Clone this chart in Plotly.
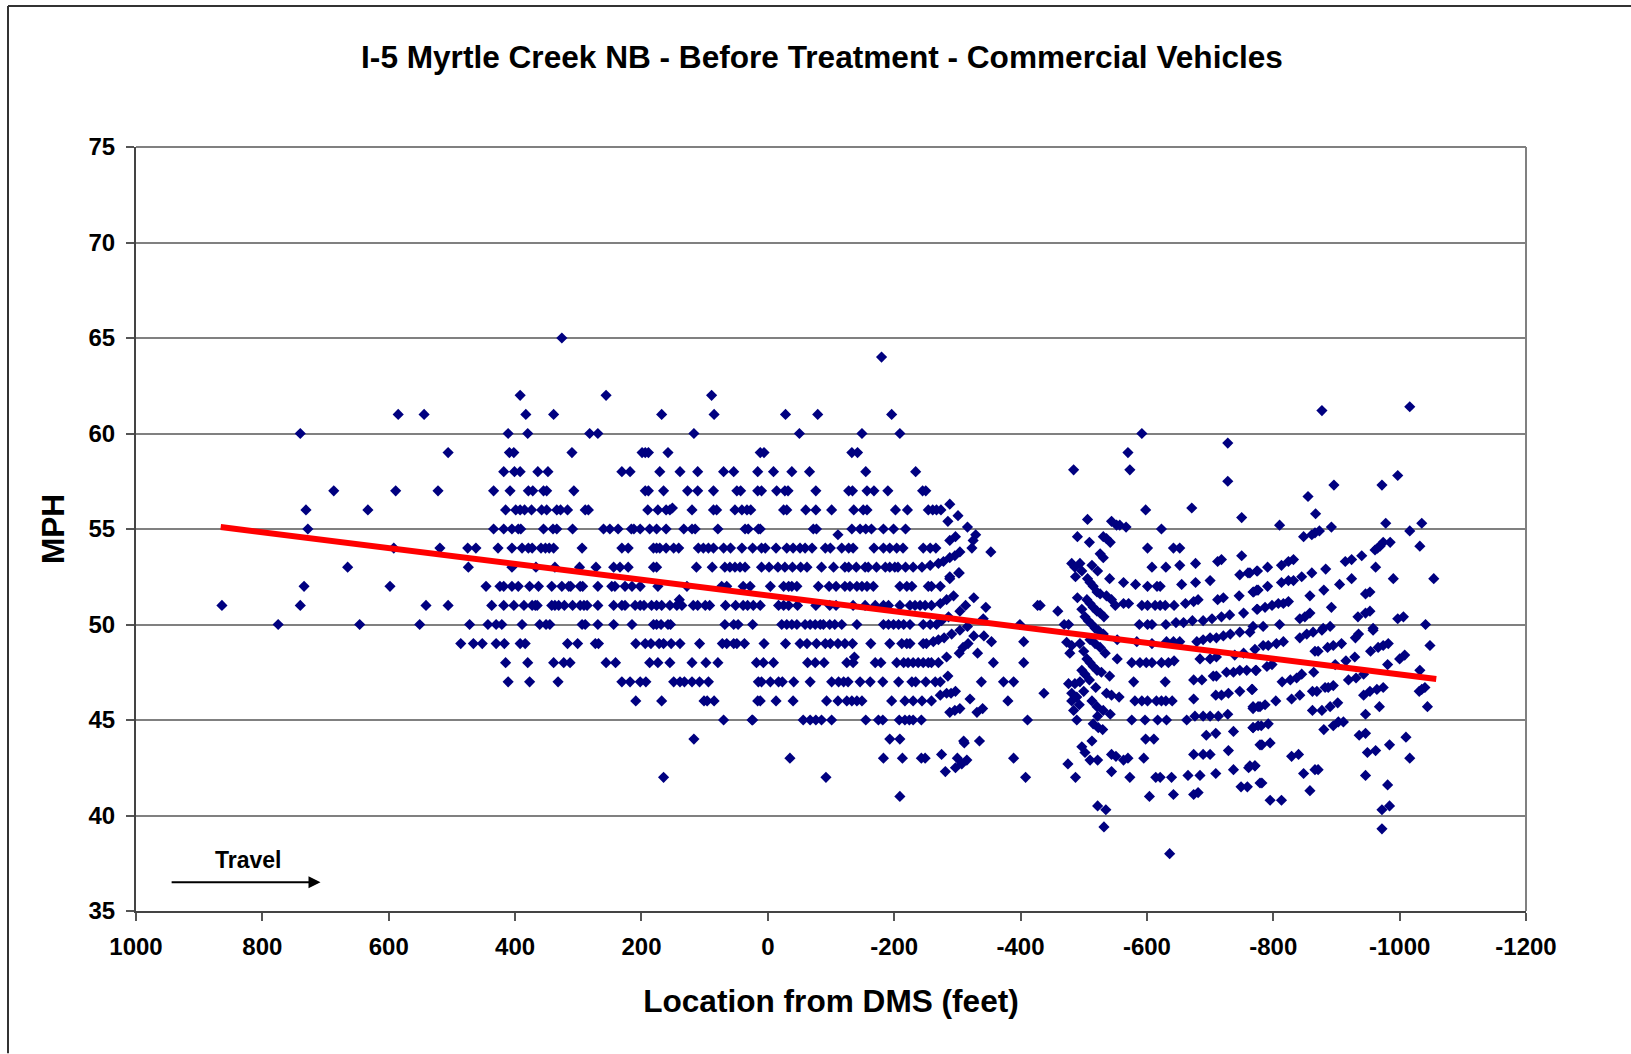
import plotly.graph_objects as go

# Locations (feet from DMS) of observations at whole-mph speeds, upstream part
loc_65 = [326]
loc_64 = [-180]
loc_62 = [392, 256, 89]
loc_61 = [585, 544, 383, 339, 168, 85, -28, -79, -196]
loc_60 = [740, 411, 380, 282, 269, 117, -50, -149, -209]
loc_59 = [506, 409, 402, 310, 199, 194, 189, 158, 12, 6, -133, -142]
loc_58 = [418, 401, 392, 364, 348, 231, 218, 171, 139, 111, 70, 54, 16, -9, -38, -66, -155, -234]
loc_57 = [687, 589, 522, 434, 408, 379, 372, 355, 350, 307, 194, 189, 165, 127, 111, 86, 49, 43, 16, 10,
          -14, -27, -32, -76, -128, -134, -157, -168, -190, -245, -250]
loc_56 = [731, 633, 415, 399, 392, 385, 374, 358, 350, 334, 328, 317, 289, 284, 190, 174, 161, 155, 120, 86,
          81, 52, 41, 33, 27, -25, -30, -60, -76, -101, -136, -151, -157, -202, -221, -254, -261, -267, -274]
loc_55 = [728, 434, 418, 405, 395, 391, 355, 340, 334, 309, 260, 250, 237, 216, 212, 202, 187, 176, 161, 133,
          120, 115, 79, 36, 31, 15, 12, -72, -77, -133, -146, -155, -164, -183, -199, -218]
loc_54 = [592, 519, 475, 462, 427, 405, 389, 379, 373, 359, 352, 346, 339, 294, 231, 221, 181, 176, 171, 161,
          149, 141, 110, 102, 94, 86, 70, 59, 41, 24, 10, 4, -13, -30, -40, -51, -59, -70, -91, -99, -117, -128,
          -135, -168, -183, -193, -204, -214, -246, -257, -266, -323]
loc_53 = [665, 474, 405, 367, 337, 298, 272, 244, 234, 221, 181, 176, 113, 88, 68, 60, 52, 44, 36, 10, -2, -16,
          -27, -39, -52, -62, -85, -104, -122, -128, -140, -154, -159, -172, -186, -193, -201, -206, -218, -230, -244]
loc_52 = [734, 598, 446, 424, 418, 405, 395, 377, 363, 342, 326, 315, 312, 297, 293, 269, 247, 242, 226, 215,
          202, 174, 128, 73, 65, 39, 28, -4, -25, -33, -38, -46, -80, -97, -108, -122, -130, -141, -149, -157, -167,
          -209, -220, -228, -254, -259, -273]
loc_51 = [864, 740, 541, 506, 437, 418, 402, 386, 373, 368, 365, 342, 337, 331, 322, 309, 297, 291, 286, 269,
          244, 231, 226, 210, 202, 196, 184, 176, 168, 155, 144, 136, 118, 111, 99, 92, 67, 51, 39, 32, 23, 12,
          -17, -25, -33, -47, -76, -98, -108, -135, -154, -170, -183, -191, -209, -225, -233, -241, -249, -313, -427]
loc_50 = [775, 646, 551, 472, 443, 430, 421, 389, 361, 351, 345, 294, 289, 269, 244, 215, 181, 176, 169, 158,
          154, 68, 54, 47, 24, -22, -30, -38, -46, -59, -67, -75, -83, -88, -98, -106, -117, -141, -183, -191, -199,
          -207, -215, -225, -246, -257, -267, -399]
loc_49 = [486, 466, 452, 430, 417, 392, 384, 317, 301, 273, 268, 209, 194, 185, 172, 165, 153, 139, 108, 72, 65,
          54, 49, 37, 6, -28, -51, -62, -77, -91, -99, -111, -122, -134, -163, -193, -212, -220, -225, -246, -251,
          -317]
loc_48 = [415, 380, 339, 323, 313, 256, 241, 187, 174, 155, 120, 98, 79, 18, 7, -9, -63, -75, -89, -125, -135,
          -170, -179, -204, -215, -222, -230, -238, -246, -254, -259, -270, -357, -405]
loc_47 = [411, 377, 332, 231, 218, 202, 193, 149, 139, 132, 120, 108, 94, 15, 10, -4, -17, -23, -41, -67, -101,
          -112, -120, -127, -146, -162, -182, -207, -228, -234, -250, -265, -273, -338, -373, -389]
loc_46 = [209, 168, 101, 96, 85, 16, 12, -13, -40, -93, -111, -125, -133, -141, -149, -196, -217, -230, -244,
          -259, -380]
loc_45 = [70, 25, 24, -56, -67, -76, -85, -101, -155, -175, -182, -208, -217, -224, -230, -243, -411]
loc_44 = [117, -193, -209]
loc_43 = [-35, -183, -213, -243, -249, -300, -389]
loc_42 = [165, -92, -408]
loc_41 = [-209]

# Observations that do not fall on a whole mph (location in feet, speed in mph)
scattered = [
    (-111, 54.7), (-288, 56.3), (-301, 55.7), (-285, 55.4), (-316, 55.1), (-329, 54.7), (-325, 54.4),
    (-297, 54.6), (-288, 54.4), (-353, 53.8), (-304, 53.8), (-296, 53.6), (-288, 53.5), (-278, 53.3),
    (-270, 53.2), (-257, 53.1), (-302, 52.7), (-288, 52.4), (-303, 52.7), (-288, 52.5), (-294, 51.5),
    (-283, 51.3), (-273, 51.1), (-259, 51.0), (-326, 51.4), (-345, 50.9), (-304, 50.7), (-286, 50.4),
    (-341, 50.3), (-275, 50.2), (-316, 49.9), (-304, 49.7), (-291, 49.5), (-279, 49.3), (-270, 49.2),
    (-262, 49.1), (-326, 49.4), (-342, 49.4), (-354, 49.1), (-405, 49.1), (-309, 48.8), (-303, 48.5),
    (-332, 48.5), (-137, 48.3), (-283, 48.3), (-285, 47.3), (-273, 46.3), (-283, 46.4), (-290, 46.4),
    (-297, 46.5), (-320, 46.1), (-437, 46.4), (-288, 45.4), (-296, 45.5), (-304, 45.6), (-331, 45.4),
    (-340, 45.6), (-310, 43.9), (-311, 43.8), (-335, 43.9), (-275, 43.2), (-315, 42.9), (-307, 42.7),
    (-297, 42.5), (-281, 42.3), (140, 51.3), (151, 56.1),
]

# Downstream observations
downstream_a = [
    (-431, 51), (-592, 60.0), (-728, 59.5), (-570, 59.0), (-484, 58.1), (-573, 58.1), (-728, 57.5), (-598, 56.0),
    (-671, 56.1), (-750, 55.6), (-506, 55.5), (-544, 55.4), (-552, 55.2), (-557, 55.2), (-567, 55.1), (-623, 55),
    (-490, 54.6), (-509, 54.3), (-531, 54.6), (-536, 54.5), (-542, 54.3), (-601, 54), (-642, 54.0), (-652, 54.0),
    (-750, 53.6), (-526, 53.7), (-531, 53.5), (-481, 53.2), (-486, 53), (-494, 53.2), (-497, 52.8), (-513, 53.1),
    (-522, 52.8), (-608, 53), (-630, 53), (-652, 53.1), (-677, 53.2), (-712, 53.3), (-718, 53.4), (-487, 52.5),
    (-506, 52.4), (-510, 52.2), (-515, 52), (-521, 51.7), (-526, 51.6), (-541, 52.4), (-563, 52.2), (-582, 52.1),
    (-601, 52), (-616, 52), (-621, 52), (-655, 52.1), (-677, 52.2), (-700, 52.3), (-747, 52.6), (-760, 52.7),
    (-774, 52.8), (-490, 51.4), (-536, 51.5), (-544, 51.3), (-550, 51), (-563, 51.1), (-571, 51.1), (-768, 51.7),
    (-776, 51.8), (-746, 51.5), (-592, 51), (-601, 51), (-613, 51), (-621, 51), (-629, 51), (-643, 51),
    (-661, 51.1), (-674, 51.2), (-681, 51.3), (-712, 51.3), (-721, 51.4), (-505, 51.3), (-510, 51.1), (-515, 50.9),
    (-521, 50.7), (-526, 50.6), (-532, 50.4), (-497, 50.8), (-502, 50.4), (-507, 50.2), (-513, 50), (-518, 49.8),
    (-523, 49.7), (-531, 49.5), (-459, 50.7), (-469, 50), (-476, 50), (-588, 50), (-601, 50), (-608, 50),
    (-630, 50), (-646, 50.1), (-658, 50.1), (-672, 50.2), (-689, 50.2), (-703, 50.3), (-718, 50.4), (-731, 50.5),
    (-753, 50.6), (-774, 50.8),
]
downstream_b = [
    (-473, 49.07), (-481, 48.9), (-478, 48.5), (-494, 49), (-500, 48.6), (-505, 48.2), (-510, 48), (-515, 47.8),
    (-521, 47.6), (-528, 47.5), (-510, 49.2), (-518, 49), (-526, 48.8), (-534, 48.5), (-541, 47.3), (-497, 47.6),
    (-502, 47.4), (-509, 47.1), (-553, 48.2), (-576, 48), (-589, 48), (-599, 48), (-608, 48), (-623, 48), (-634, 48),
    (-643, 48.1), (-684, 48.2), (-700, 48.2), (-710, 48.3), (-679, 49.1), (-689, 49.2), (-700, 49.3), (-710, 49.3),
    (-721, 49.4), (-732, 49.5), (-747, 49.6), (-763, 49.6), (-631, 49.1), (-642, 49.1), (-652, 49.1), (-584, 49.1),
    (-553, 49.2), (-608, 49), (-739, 48.4), (-753, 48.5), (-773, 47.6), (-747, 47.6), (-758, 47.6), (-737, 47.5),
    (-726, 47.5), (-710, 47.3), (-705, 47.3), (-579, 47), (-629, 47), (-674, 47.1), (-687, 47.1), (-476, 46.9),
    (-494, 47), (-486, 46.9), (-500, 46.5), (-519, 46.7), (-481, 46.4), (-489, 46.2), (-481, 46), (-536, 46.4),
    (-544, 46.3), (-556, 46.2), (-581, 46), (-592, 46), (-601, 46), (-615, 46), (-623, 46), (-630, 46), (-640, 46),
    (-674, 46.1), (-709, 46.3), (-718, 46.3), (-729, 46.4), (-747, 46.5), (-766, 46.6), (-768, 45.6), (-776, 45.7),
    (-493, 45.8), (-484, 45.5), (-489, 45), (-513, 46), (-521, 45.7), (-531, 45.5), (-542, 45.3), (-522, 45.2),
    (-576, 45), (-597, 45), (-617, 45), (-631, 45), (-663, 45), (-676, 45.2), (-689, 45.2), (-700, 45.2),
    (-713, 45.2), (-728, 45.3), (-515, 44.8), (-523, 44.6), (-530, 44.5), (-513, 43.9), (-598, 44), (-611, 44),
    (-694, 44.2), (-709, 44.3), (-737, 44.4), (-768, 44.6), (-776, 44.7), (-497, 43.6), (-502, 43.3), (-510, 42.9),
    (-522, 42.9), (-475, 42.7), (-544, 43.2), (-551, 43.1), (-563, 42.9), (-570, 43), (-595, 43), (-674, 43.2),
    (-689, 43.2), (-700, 43.2), (-729, 43.4), (-761, 42.5), (-771, 42.6), (-779, 43.7), (-487, 42), (-544, 42.3),
    (-573, 42), (-614, 42), (-621, 42), (-639, 42), (-665, 42.1), (-684, 42.1), (-709, 42.2), (-737, 42.4),
    (-749, 41.5), (-759, 41.5), (-779, 41.7), (-604, 41), (-642, 41.1), (-674, 41.1), (-681, 41.2), (-522, 40.5),
    (-535, 40.3), (-532, 39.4), (-636, 38),
]
downstream_c = [
    (-877, 61.2), (-1016, 61.4), (-997, 57.8), (-896, 57.3), (-972, 57.3), (-855, 56.7), (-867, 55.8), (-810, 55.2),
    (-892, 55.1), (-978, 55.3), (-1035, 55.3), (-1016, 54.9), (-848, 54.6), (-861, 54.7), (-866, 54.8), (-873, 54.9),
    (-1032, 54.1), (-985, 54.3), (-974, 54.3), (-969, 54.1), (-961, 53.9), (-965, 54), (-940, 53.6), (-924, 53.4),
    (-914, 53.3), (-962, 53), (-832, 53.4), (-824, 53.3), (-813, 53.1), (-791, 53), (-775, 52.8), (-763, 52.7),
    (-883, 52.9), (-861, 52.7), (-845, 52.5), (-832, 52.3), (-824, 52.3), (-813, 52.2), (-791, 52), (-774, 51.8),
    (-769, 51.7), (-924, 52.4), (-905, 52.1), (-880, 51.8), (-858, 51.5), (-990, 52.4), (-1054, 52.4), (-953, 51.7),
    (-946, 51.6), (-892, 50.9), (-953, 50.7), (-946, 50.6), (-934, 50.4), (-858, 50.6), (-850, 50.4), (-842, 50.3),
    (-824, 51.2), (-816, 51.1), (-808, 51.1), (-798, 51), (-787, 50.9), (-775, 50.8), (-997, 50.3), (-1006, 50.4),
    (-1041, 50), (-810, 50), (-784, 49.9), (-768, 49.9), (-890, 49.9), (-879, 49.8), (-958, 49.8),
    (-877, 49.7), (-863, 49.6), (-853, 49.5), (-842, 49.3), (-958, 49.7), (-935, 49.5), (-930, 49.3), (-816, 49.1),
    (-805, 49), (-792, 48.9), (-784, 48.9), (-771, 48.7), (-1048, 48.9), (-908, 49), (-895, 48.9), (-886, 48.8),
    (-1008, 48.4), (-1000, 48.2), (-982, 49), (-974, 48.9), (-966, 48.8), (-954, 48.6), (-871, 48.6), (-866, 48.6),
    (-929, 48.3), (-915, 48.1), (-898, 47.9), (-864, 47.5), (-981, 47.9), (-1032, 47.6), (-845, 47.4), (-837, 47.2),
    (-827, 47.1), (-814, 47), (-943, 47.4), (-931, 47.2), (-919, 47.1), (-798, 47.9), (-790, 47.8), (-772, 47.6),
    (-767, 46.6), (-1040, 46.7), (-1035, 46.6), (-1031, 46.5), (-974, 46.7), (-964, 46.6), (-953, 46.5), (-943, 46.3),
    (-895, 46.8), (-887, 46.7), (-882, 46.7), (-869, 46.5), (-862, 46.5), (-842, 46.3), (-829, 46.1), (-804, 46),
    (-787, 45.8), (-779, 45.7), (-768, 45.7), (-902, 45.9), (-890, 45.7), (-877, 45.5), (-862, 45.5), (-1044, 45.7),
    (-968, 45.7), (-946, 45.3), (-911, 44.9), (-903, 44.9), (-895, 44.7), (-880, 44.5), (-792, 44.8), (-781, 44.7),
    (-768, 44.6), (-946, 44.3), (-936, 44.2), (-1010, 44.1), (-984, 43.7), (-1016, 43), (-795, 43.8), (-782, 43.7),
    (-840, 43.2), (-829, 43.1), (-962, 43.4), (-949, 43.3), (-771, 42.6), (-763, 42.6), (-871, 42.4), (-866, 42.4),
    (-848, 42.2), (-946, 42.1), (-782, 41.7), (-858, 41.3), (-795, 40.8), (-813, 40.8), (-981, 41.6), (-984, 40.5),
    (-972, 40.3), (-972, 39.3),
]

# Linear trend
trend_loc = [866, -1058]
trend_mph = [55.1, 47.15]

x_ticks = [1000, 800, 600, 400, 200, 0, -200, -400, -600, -800, -1000, -1200]
y_ticks = [35, 40, 45, 50, 55, 60, 65, 70, 75]

TITLE = "I-5 Myrtle Creek NB - Before Treatment - Commercial Vehicles"
X_TITLE = "Location from DMS (feet)"
Y_TITLE = "MPH"
NOTE = "Travel"

rows = {65: loc_65, 64: loc_64, 62: loc_62, 61: loc_61, 60: loc_60, 59: loc_59, 58: loc_58, 57: loc_57,
        56: loc_56, 55: loc_55, 54: loc_54, 53: loc_53, 52: loc_52, 51: loc_51, 50: loc_50, 49: loc_49,
        48: loc_48, 47: loc_47, 46: loc_46, 45: loc_45, 44: loc_44, 43: loc_43, 42: loc_42, 41: loc_41}

xs, ys = [], []
for mph, locs in rows.items():
    xs.extend(locs)
    ys.extend([mph] * len(locs))
for group in (scattered, downstream_a, downstream_b, downstream_c):
    xs.extend(p[0] for p in group)
    ys.extend(p[1] for p in group)

FONT = "Liberation Sans, Arial, sans-serif"
W, H = 1631, 1054
L, R, T, B = 136, 1526, 146.7, 911.5
fx = lambda px: (px - L) / (R - L)
fy = lambda py: (B - py) / (B - T)

fig = go.Figure()
fig.add_trace(go.Scatter(x=xs, y=ys, mode="markers",
                         marker=dict(symbol="diamond", size=8.6, color="#000080", line=dict(width=0)),
                         showlegend=False))
fig.add_trace(go.Scatter(x=trend_loc, y=trend_mph, mode="lines",
                         line=dict(color="#ff0000", width=6), showlegend=False))

fig.update_layout(
    width=W, height=H, autosize=False,
    margin=dict(l=L, r=W - R, t=T, b=H - B, pad=0),
    paper_bgcolor="white", plot_bgcolor="white",
    font=dict(family=FONT, color="black"),
    title=dict(text="<b>%s</b>" % TITLE, x=822 / W, xanchor="center", y=1 - 57 / H, yanchor="middle",
               xref="container", yref="container", font=dict(size=31.6, family=FONT)),
    xaxis=dict(range=[1000, -1200], tickmode="array", tickvals=x_ticks,
               ticktext=["<b>%d</b>" % t for t in x_ticks],
               ticks="outside", ticklen=8, tickwidth=1.5, tickcolor="#555555", ticklabelstandoff=5,
               showgrid=False, zeroline=False, showline=True, linecolor="#444444", linewidth=2,
               tickfont=dict(size=24, family=FONT), automargin=False,
               title=dict(text="<b>%s</b>" % X_TITLE, standoff=31, font=dict(size=31.6, family=FONT))),
    yaxis=dict(range=[35, 75], tickmode="array", tickvals=y_ticks,
               ticktext=["<b>%d</b>" % t for t in y_ticks],
               ticks="outside", ticklen=8, tickwidth=1.5, tickcolor="#555555", ticklabelstandoff=6,
               showgrid=True, gridcolor="#808080", gridwidth=2, zeroline=False,
               showline=True, linecolor="#444444", linewidth=2,
               tickfont=dict(size=24, family=FONT), automargin=False,
               title=dict(text="<b>%s</b>" % Y_TITLE, standoff=14, font=dict(size=31.6, family=FONT))),
    annotations=[
        dict(x=708, y=36.5, ax=946, ay=36.5, xref="x", yref="y", axref="x", ayref="y", text="",
             showarrow=True, arrowhead=2, arrowsize=1.2, arrowwidth=2, arrowcolor="black"),
        dict(x=822, y=37.65, xref="x", yref="y", text="<b>%s</b>" % NOTE,
             showarrow=False, font=dict(size=23, family=FONT)),
    ],
    shapes=[
        dict(type="line", xref="paper", yref="paper", x0=fx(8), x1=fx(8), y0=fy(H), y1=fy(5.5),
             line=dict(color="#333333", width=2)),
        dict(type="line", xref="paper", yref="paper", x0=fx(8), x1=fx(W), y0=fy(5.5), y1=fy(5.5),
             line=dict(color="#333333", width=2)),
        dict(type="line", xref="paper", yref="paper", x0=1, x1=1, y0=0, y1=1,
             line=dict(color="#808080", width=2)),
        dict(type="line", xref="paper", yref="paper", x0=0, x1=1, y0=1, y1=1,
             line=dict(color="#808080", width=2)),
    ],
)

fig.write_html("out.html", config={"displayModeBar": False}, post_script="document.body.style.margin='0';")
